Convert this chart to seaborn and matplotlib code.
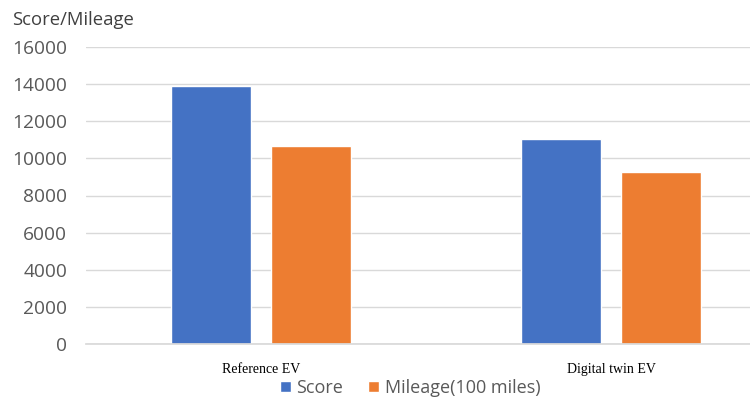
import matplotlib
matplotlib.use("Agg")
import matplotlib.pyplot as plt
import seaborn as sns
import pandas as pd

categories = ["Reference EV", "Digital twin EV"]
series_names = ["Score", "Mileage(100 miles)"]
score = [13900, 11030]
mileage = [10650, 9250]
yticks = [0, 2000, 4000, 6000, 8000, 10000, 12000, 14000, 16000]

df = pd.DataFrame({
    "category": categories * 2,
    "series": [series_names[0]] * 2 + [series_names[1]] * 2,
    "value": score + mileage,
})

sns.set_theme(style="white")
plt.rcParams["font.family"] = ["Open Sans", "DejaVu Sans"]

fig = plt.figure(figsize=(7.5, 3.99), dpi=100)
ax = fig.add_axes([86 / 750, 1 - 344 / 399, 1 - 86 / 750, (344 - 47) / 399])

palette = {series_names[0]: "#4472C4", series_names[1]: "#ED7D31"}
sns.barplot(data=df, x="category", y="value", hue="series", order=categories,
            hue_order=series_names, palette=palette, width=0.57, gap=0.2,
            saturation=1, ax=ax, legend=True)

ax.set_ylim(0, 16000)
ax.set_yticks(yticks)
ax.set_yticklabels([str(v) for v in yticks], color="#595959", fontsize=13.8)
ax.set_xlim(-0.5, -0.5 + 664 / 350)
ax.yaxis.grid(True, color="#D9D9D9", linewidth=1)
ax.set_axisbelow(True)
for side in ["left", "right", "top"]:
    ax.spines[side].set_visible(False)
ax.spines["bottom"].set_color("#D9D9D9")
ax.tick_params(axis="y", length=0, pad=13.5)
ax.tick_params(axis="x", length=0, pad=14)
ax.set_xlabel("")
ax.set_ylabel("")
for lbl in ax.get_xticklabels():
    lbl.set_fontfamily("Liberation Serif")
    lbl.set_fontsize(10)
    lbl.set_color("#000000")

fig.text(12 / 750, 1 - 20 / 399, "Score/Mileage", fontsize=13.3, color="#404040",
         ha="left", va="center")

ax.legend(loc="center", bbox_to_anchor=(410 / 750, 1 - 388 / 399),
          bbox_transform=fig.transFigure, ncol=2, frameon=False,
          fontsize=13, labelcolor="#595959", handlelength=0.62, handleheight=0.62,
          handletextpad=0.3, columnspacing=1.4, borderpad=0)

fig.savefig("out.png", dpi=100)
